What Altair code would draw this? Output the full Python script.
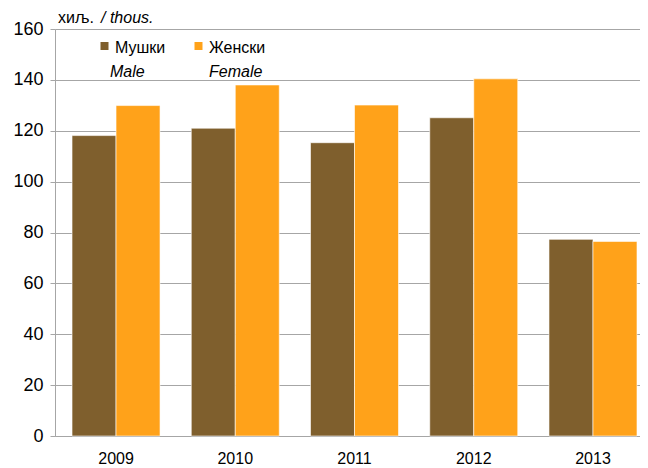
import altair as alt
import pandas as pd

years = ["2009", "2010", "2011", "2012", "2013"]
male = [118.1, 121.0, 115.3, 125.1, 77.3]
female = [129.9, 138.0, 130.1, 140.4, 76.5]
series = ["Мушки", "Женски"]
series_en = ["Male", "Female"]
colors = ["#7F5F2D", "#FFA21A"]
y_ticks = [0, 20, 40, 60, 80, 100, 120, 140, 160]

FONT = "Liberation Sans"

rows = []
for i, y in enumerate(years):
    rows.append({"year": y, "sex": series[0], "value": male[i]})
    rows.append({"year": y, "sex": series[1], "value": female[i]})
df = pd.DataFrame(rows)

bars = alt.Chart(df).mark_bar(stroke="white", strokeWidth=0.6).encode(
    x=alt.X("year:N", sort=years, title=None,
            scale=alt.Scale(paddingInner=0.262, paddingOuter=0.084, align=0.85),
            axis=alt.Axis(labelAngle=0, ticks=False, domainColor="#A6A6A6",
                          labelFont=FONT, labelFontSize=16, labelColor="#000000",
                          labelFontWeight="normal", labelPadding=14, grid=False)),
    xOffset=alt.XOffset("sex:N", sort=series),
    y=alt.Y("value:Q", title=None,
            scale=alt.Scale(domain=[0, 160], nice=False),
            axis=alt.Axis(values=y_ticks, tickSize=5, tickColor="#A6A6A6",
                          domainColor="#A6A6A6", gridColor="#A6A6A6",
                          labelFont=FONT, labelFontSize=18, labelColor="#000000",
                          labelFontWeight="normal", labelPadding=7)),
    color=alt.Color("sex:N", sort=series,
                    scale=alt.Scale(domain=series, range=colors), legend=None),
)

layers = [bars]

# legend squares and labels
sq_x = [49.5, 143.5]
txt_x = [60, 154]
sub_x = [55, 154]
for i in range(2):
    layers.append(alt.Chart(pd.DataFrame({"s": [series[i]]})).mark_square(
        size=64, color=colors[i], opacity=1).encode(
        x=alt.value(sq_x[i]), y=alt.value(17)))
    layers.append(alt.Chart(pd.DataFrame({"t": [series[i]]})).mark_text(
        align="left", baseline="alphabetic", font=FONT, fontSize=16, color="#000000").encode(
        x=alt.value(txt_x[i]), y=alt.value(24.3), text="t:N"))
    layers.append(alt.Chart(pd.DataFrame({"t": [series_en[i]]})).mark_text(
        align="left", baseline="alphabetic", font=FONT, fontSize=16, fontStyle="italic",
        color="#000000").encode(
        x=alt.value(sub_x[i]), y=alt.value(47.7), text="t:N"))

# unit title
layers.append(alt.Chart(pd.DataFrame({"t": ["хиљ."]})).mark_text(
    align="left", baseline="alphabetic", font=FONT, fontSize=16, color="#000000").encode(
    x=alt.value(3), y=alt.value(-5.7), text="t:N"))
layers.append(alt.Chart(pd.DataFrame({"t": ["/ thous."]})).mark_text(
    align="left", baseline="alphabetic", font=FONT, fontSize=16, fontStyle="italic",
    color="#000000").encode(
    x=alt.value(46), y=alt.value(-5.7), text="t:N"))

chart = alt.layer(*layers).properties(
    width=585, height=407,
    autosize=alt.AutoSizeParams(type="none"),
    padding={"left": 47, "top": 21, "right": 0, "bottom": 30},
).configure_view(stroke=None).configure(background="white")

chart.save("out.html", embed_options={"renderer": "svg", "actions": False})
